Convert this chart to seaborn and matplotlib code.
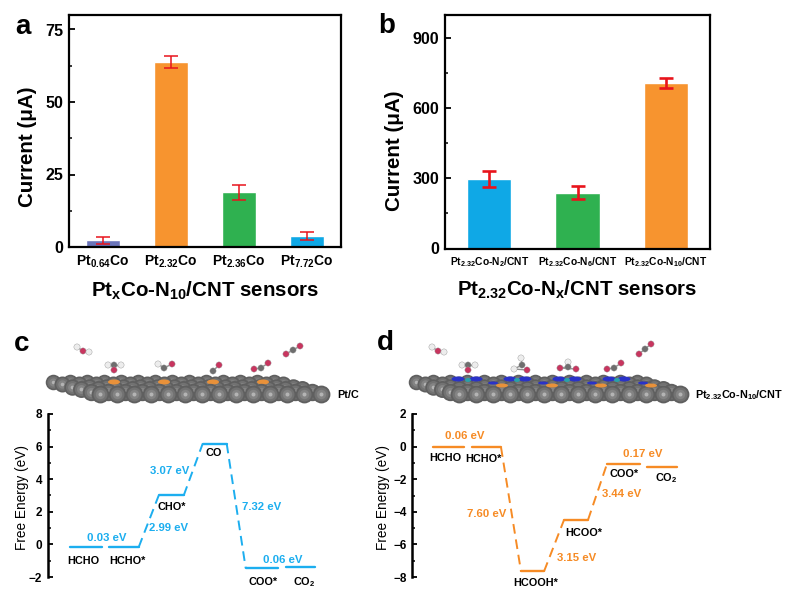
import numpy as np
import pandas as pd
import matplotlib
matplotlib.use("Agg")
import matplotlib.pyplot as plt
from matplotlib.patches import Ellipse
from matplotlib.ticker import MultipleLocator
import seaborn as sns

# Bar panels
samples_a = ["Pt$_{0.64}$Co", "Pt$_{2.32}$Co", "Pt$_{2.36}$Co", "Pt$_{7.72}$Co"]
current_a = [2.3, 63.8, 18.8, 3.8]
error_a = [1.2, 2.0, 2.5, 1.5]
colors_a = ["#6A74BA", "#F7942F", "#2FB150", "#0FA8E6"]

samples_b = ["Pt$_{2.32}$Co-N$_{2}$/CNT", "Pt$_{2.32}$Co-N$_{6}$/CNT", "Pt$_{2.32}$Co-N$_{10}$/CNT"]
current_b = [297, 238, 708]
error_b = [33, 28, 21]
colors_b = ["#0FA8E6", "#2FB150", "#F7942F"]

# Energy levels, reaction coordinate runs 0-283 along each diagram
energy_c = [-0.13, -0.17, 3.0, 6.18, -1.46, -1.4]
start_c = [22, 61, 111, 155, 198, 238]
end_c = [54, 91, 136, 179, 230, 267]
links_c = [(1, 2), (2, 3), (3, 4)]

energy_d = [0.0, -0.04, -7.66, -4.5, -1.06, -1.24]
start_d = [21, 60, 109, 152, 195, 235]
end_d = [52, 89, 132, 176, 228, 265]
links_d = [(1, 2), (2, 3), (3, 4)]

# Text on the diagrams (figure pixels)
labels_c = [("0.03 eV", 107, 538, "e"), ("HCHO", 83, 561, "k"), ("HCHO*", 127, 561, "k"),
            ("2.99 eV", 169, 528, "e"), ("CHO*", 172, 507, "k"), ("3.07 eV", 170, 471, "e"),
            ("CO", 214, 453, "k"), ("7.32 eV", 262, 507, "e"), ("0.06 eV", 283, 560, "e"),
            ("COO*", 263, 582, "k"), ("CO$_{2}$", 304, 582, "k")]
labels_d = [("0.06 eV", 465, 436, "e"), ("HCHO", 445, 458, "k"), ("HCHO*", 483, 459, "k"),
            ("7.60 eV", 487, 514, "e"), ("HCOOH*", 536, 583, "k"), ("3.15 eV", 577, 558, "e"),
            ("HCOO*", 584, 533, "k"), ("3.44 eV", 622, 494, "e"), ("COO*", 624, 474, "k"),
            ("0.17 eV", 643, 454, "e"), ("CO$_{2}$", 666, 478, "k")]

# Adsorbed molecules on the slabs (figure pixels), W = H, R = O, G = C
molecules_c = [
    [(77, 347, "W"), (83, 351, "R"), (89, 352, "W")],
    [(108, 365, "W"), (121, 365, "W"), (114, 365, "G"), (114, 370, "R")],
    [(158, 364, "W"), (164, 368, "G"), (172, 364, "R")],
    [(213, 371, "G"), (219, 365, "R")],
    [(254, 369, "R"), (261, 368, "G"), (268, 363, "R")],
    [(286, 354, "R"), (293, 350, "G"), (300, 346, "R")],
]
molecules_d = [
    [(432, 347, "W"), (438, 351, "R"), (444, 352, "W")],
    [(462, 365, "W"), (475, 365, "W"), (468, 365, "G"), (468, 370, "R")],
    [(521, 358, "W"), (522, 365, "G"), (514, 369, "W"), (527, 370, "R")],
    [(568, 362, "W"), (568, 367, "G"), (560, 368, "R"), (576, 369, "R")],
    [(607, 369, "R"), (614, 368, "G"), (621, 363, "R")],
    [(639, 354, "R"), (645, 349, "G"), (651, 344, "R")],
]
orange_c = [114, 164, 213, 263]
orange_d = [502, 552, 601, 651]
nitrogen_d = [458, 476, 510, 525, 559, 575, 609, 624]
nitrogen2_d = [493, 543, 592, 643]
cobalt_d = [468, 517, 567, 617]

BLUE = "#1CAEEF"
ORANGE = "#F68B25"
ATOM = {"W": "#EDEDED", "R": "#C8355F", "G": "#6E6E6E"}
W, H = 800, 593

sns.set_theme(style="ticks")
plt.rcParams["font.family"] = ["Liberation Sans", "DejaVu Sans"]
plt.rcParams["font.weight"] = "bold"
plt.rcParams["axes.labelweight"] = "bold"
plt.rcParams["mathtext.default"] = "regular"
plt.rcParams["axes.linewidth"] = 1.6
plt.rcParams["axes.edgecolor"] = "black"
plt.rcParams["axes.labelcolor"] = "black"
plt.rcParams["text.color"] = "black"
plt.rcParams["xtick.color"] = "black"
plt.rcParams["ytick.color"] = "black"


def px_axes(fig, left, right, top, bottom):
    return fig.add_axes([left / W, 1 - bottom / H, (right - left) / W, (bottom - top) / H])


def bar_panel(ax, names, values, errors, colors, ymax, major, tick_size, err_lw):
    df = pd.DataFrame({"sample": names, "current": values})
    sns.barplot(data=df, x="sample", y="current", hue="sample", palette=colors,
                width=0.5, saturation=1, legend=False, ax=ax)
    ax.errorbar(range(len(names)), values, yerr=errors, fmt="none", ecolor="#E8141C",
                elinewidth=err_lw, capsize=4.8, capthick=err_lw, zorder=5)
    ax.set_xlim(-0.5, len(names) - 0.5)
    ax.set_ylim(0, ymax)
    ax.yaxis.set_major_locator(MultipleLocator(major))
    ax.yaxis.set_minor_locator(MultipleLocator(major / 2))
    ax.tick_params(axis="y", which="major", direction="in", length=4, width=1.3,
                   labelsize=11.6, pad=4)
    ax.tick_params(axis="y", which="minor", direction="in", length=2, width=1.1)
    ax.tick_params(axis="x", direction="in", length=3, width=1.3, labelsize=tick_size, pad=5)
    ax.set_ylabel("Current (μA)", fontsize=14.8)
    for side in ax.spines.values():
        side.set_linewidth(1.6)


def level_panel(ax, energy, start, end, links, color):
    rows = []
    for i in range(len(energy)):
        rows.append((i, start[i], energy[i]))
        rows.append((i, end[i], energy[i]))
    levels = pd.DataFrame(rows, columns=["seg", "x", "y"])
    sns.lineplot(data=levels, x="x", y="y", units="seg", estimator=None, sort=False,
                 color=color, linewidth=1.7, ax=ax)
    rows = []
    for n, (a, b) in enumerate(links):
        rows.append((n, end[a], energy[a]))
        rows.append((n, start[b], energy[b]))
    dashed = pd.DataFrame(rows, columns=["seg", "x", "y"])
    sns.lineplot(data=dashed, x="x", y="y", units="seg", estimator=None, sort=False,
                 color=color, linewidth=1.4, linestyle=(0, (5, 3)), ax=ax)
    ax.set_xlim(0, 283)
    ax.set_xticks([])
    ax.set_xlabel("")
    ax.patch.set_alpha(0)
    sns.despine(ax=ax, bottom=True)
    ax.spines["left"].set_linewidth(1.8)
    ax.yaxis.set_minor_locator(MultipleLocator(1))
    ax.tick_params(axis="y", which="major", direction="in", length=3.5, width=1.3,
                   labelsize=8.5, pad=4)
    ax.tick_params(axis="y", which="minor", direction="in", length=2, width=1.1)
    ax.set_ylabel("Free Energy (eV)", fontsize=9.8, fontweight="normal")


def slab(ax, back_left, front_left, spacing, spots):
    # gray spheres, painted from the back row to the front row
    rows = 6
    for i in range(rows):
        f = i / (rows - 1)
        x0 = back_left + (front_left - back_left) * f
        y = 382 + 12 * f
        xs = x0 + spacing * np.arange(14)
        ys = np.full(14, y)
        z = 2 + i
        s = 125 + 40 * f
        ax.scatter(xs, ys, s=s, color="#5F5F5F", linewidths=0, zorder=z)
        ax.scatter(xs, ys, s=s * 0.62, color="#727272", linewidths=0, zorder=z)
        ax.scatter(xs, ys, s=s * 0.28, color="#848484", linewidths=0, zorder=z)
        ax.scatter(xs, ys, s=s * 0.05, color="#B4B4B4", linewidths=0, zorder=z)
    for xs, y, color, w, h, z in spots:
        for x in xs:
            ax.add_patch(Ellipse((x, y), w, h, color=color, lw=0, zorder=z))


def molecules(ax, groups):
    for group in groups:
        xs = [a[0] for a in group]
        ys = [a[1] for a in group]
        ax.plot(xs, ys, color="#909090", lw=1, zorder=20)
        ax.scatter(xs, ys, s=20, c=[ATOM[a[2]] for a in group], edgecolors="#999999",
                   linewidths=0.3, zorder=21)


fig = plt.figure(figsize=(W / 100, H / 100), dpi=100)

ax_a = px_axes(fig, 68.5, 341, 15, 247)
bar_panel(ax_a, samples_a, current_a, error_a, colors_a, 80, 25, 10, 1.1)
ax_a.set_xlabel("Pt$_{x}$Co-N$_{10}$/CNT sensors", fontsize=14.8, labelpad=7)
ax_a.yaxis.set_label_coords(-0.114, 0.433)

ax_b = px_axes(fig, 445, 710, 15, 248.5)
bar_panel(ax_b, samples_b, current_b, error_b, colors_b, 1000, 300, 7.4, 1.9)
ax_b.set_xlabel("Pt$_{2.32}$Co-N$_{x}$/CNT sensors", fontsize=14.8, labelpad=7)
ax_b.yaxis.set_minor_locator(MultipleLocator(150))
ax_b.yaxis.set_label_coords(-0.153, 0.42)

ax_c = px_axes(fig, 47.7, 330.7, 414, 577)
level_panel(ax_c, energy_c, start_c, end_c, links_c, BLUE)
ax_c.set_ylim(-2, 8)
ax_c.set_yticks([-2, 0, 2, 4, 6, 8])
ax_c.yaxis.set_label_coords(-0.065, 0.49)

ax_d = px_axes(fig, 412, 695, 414, 577)
level_panel(ax_d, energy_d, start_d, end_d, links_d, ORANGE)
ax_d.set_ylim(-8, 2)
ax_d.set_yticks([-8, -6, -4, -2, 0, 2])
ax_d.yaxis.set_label_coords(-0.076, 0.49)

# Overlay in figure pixels for letters, slabs and labels
over = fig.add_axes([0, 0, 1, 1], zorder=10)
over.set_xlim(0, W)
over.set_ylim(H, 0)
over.axis("off")
over.patch.set_alpha(0)

for letter, x, y in [("a", 23, 27), ("b", 387, 26), ("c", 22, 344), ("d", 385, 343)]:
    over.text(x, y, letter, fontsize=20, ha="center", va="center")

slab(over, 53, 100, 17, [(orange_c, 382, "#E8913A", 12, 5, 5.5)])
slab(over, 416, 459, 17, [
    (nitrogen_d, 379, "#2A32C8", 13, 5, 5.5),
    (cobalt_d, 380, "#2AA0A8", 6, 4, 5.6),
    (nitrogen2_d, 383, "#2A32C8", 10, 3, 6.5),
    (orange_d, 385.5, "#E8913A", 12, 4, 7.5),
])
molecules(over, molecules_c)
molecules(over, molecules_d)

over.text(348, 395, "Pt/C", fontsize=7.8, ha="center", va="center")
over.text(739, 395, "Pt$_{2.32}$Co-N$_{10}$/CNT", fontsize=7.8, ha="center", va="center")

for labels, color in [(labels_c, BLUE), (labels_d, ORANGE)]:
    for text, x, y, kind in labels:
        over.text(x, y, text, fontsize=8.2 if kind == "e" else 7.8, ha="center", va="center",
                  color=color if kind == "e" else "black")

fig.savefig("out.png", dpi=100)
